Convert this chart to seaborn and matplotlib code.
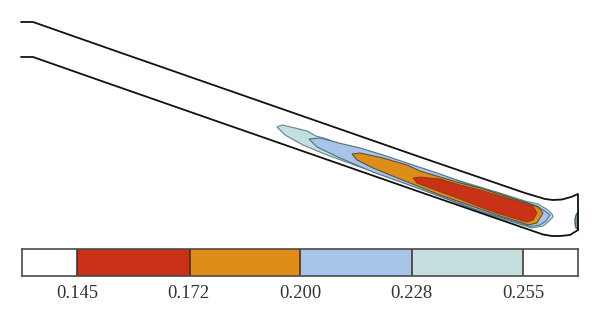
import matplotlib
matplotlib.use("Agg")
import matplotlib.pyplot as plt
import numpy as np
import seaborn as sns

# Channel outline (image pixel units)
upper_wall_x = [21, 33, 120, 420, 525, 535, 545, 553, 562, 571, 578, 578, 578]
upper_wall_y = [22, 22, 52.5, 157, 193, 196, 199, 200, 199.5, 197, 194, 212, 230]
lower_wall_x = [21, 33, 100, 420, 530, 543, 552, 560, 570, 578]
lower_wall_y = [57, 57, 80.5, 192, 230, 234.5, 236, 236, 235, 230]

# Contour bands
teal_x = [277, 282, 295, 307, 316, 327, 343, 355, 367, 400, 430, 470, 500, 525, 538, 548, 552, 553, 548, 543, 532, 480, 393, 360, 327, 303, 285]
teal_y = [127, 125, 128, 131, 136, 139, 146, 149, 153, 163, 172, 184, 193, 201, 204, 210, 214, 217, 222, 226, 228, 212, 178, 167, 155, 145, 135]
blue_x = [309, 320, 343, 360, 383, 407, 440, 470, 500, 525, 537, 545, 550, 546, 540, 530, 480, 420, 373, 340, 317]
blue_y = [139, 138, 144, 148, 155, 163, 174, 185, 194, 202, 206, 211, 215, 221, 225, 226.5, 211, 189, 172, 158, 147]
orange_x = [352, 360, 383, 407, 420, 440, 460, 480, 505, 527, 538, 543, 537, 528, 520, 500, 480, 460, 440, 420, 410, 390, 373, 357]
orange_y = [154, 153, 158, 165, 171, 177, 183, 188, 196, 203, 207, 213, 223, 225, 222, 216, 209, 202, 195, 187, 183, 175, 168, 160]
red_x = [413, 420, 440, 460, 480, 500, 520, 533, 537, 533, 527, 520, 500, 480, 460, 430, 417]
red_y = [178, 177, 179, 185, 190, 196, 202, 206, 213, 220, 222, 220, 214, 207, 199, 188, 183]
outlet_x = [578, 576, 575, 575, 576, 578]
outlet_y = [212, 215, 219, 224, 228, 229]

# Colour scale
band_colors = ["#FFFFFF", "#C93216", "#DD8D18", "#A8C4E8", "#C5DEDF", "#FFFFFF"]
band_edges = [-0.495, 0.0, 1.012, 2.0, 3.0, 3.995, 4.49]
tick_pos = [0, 1, 2, 3, 4]
tick_labels = ["0.145", "0.172", "0.200", "0.228", "0.255"]

sns.set_theme(style="white")
plt.rcParams["font.family"] = ["Liberation Serif", "DejaVu Serif"]

fig = plt.figure(figsize=(6, 3.26), dpi=100)
ax = fig.add_axes([0, 0, 1, 1])
ax.set_xlim(0, 600)
ax.set_ylim(326, 0)
ax.axis("off")

for xs, ys, face, edge, lw in [
    (teal_x, teal_y, "#C5DEDF", "#5F8590", 0.8),
    (blue_x, blue_y, "#A8C4E8", "#4F6F85", 0.8),
    (orange_x, orange_y, "#DD8D18", "#4A4A40", 0.7),
    (red_x, red_y, "#C93216", "#7A3A18", 0.6),
    (outlet_x, outlet_y, "#7D9AAE", "#3F5B6B", 0.9),
]:
    ax.fill(xs, ys, facecolor=face, edgecolor=edge, linewidth=lw, zorder=2)

for xs, ys in [(upper_wall_x, upper_wall_y), (lower_wall_x, lower_wall_y)]:
    sns.lineplot(x=xs, y=ys, sort=False, estimator=None, color="#111111",
                 linewidth=1.3, ax=ax, zorder=3)
ax.set_xlim(0, 600)
ax.set_ylim(326, 0)

cax = fig.add_axes([22 / 600, 1 - 276 / 326, 556 / 600, 27 / 326])
cax.pcolormesh(band_edges, [0, 1], np.arange(6).reshape(1, -1),
               cmap=matplotlib.colors.ListedColormap(band_colors),
               edgecolors="none")
for e in band_edges[1:-1]:
    cax.axvline(e, color="#3a2a22", linewidth=1.1)
cax.set_xlim(band_edges[0], band_edges[-1])
cax.set_yticks([])
cax.set_xticks(tick_pos)
cax.set_xticklabels(tick_labels, fontsize=13.4, color="#333333")
cax.tick_params(axis="x", length=0, pad=6.5, bottom=False)
for s in cax.spines.values():
    s.set_visible(True)
    s.set_color("#4a4a4a")
    s.set_linewidth(1.2)

fig.savefig("out.png", dpi=100)
